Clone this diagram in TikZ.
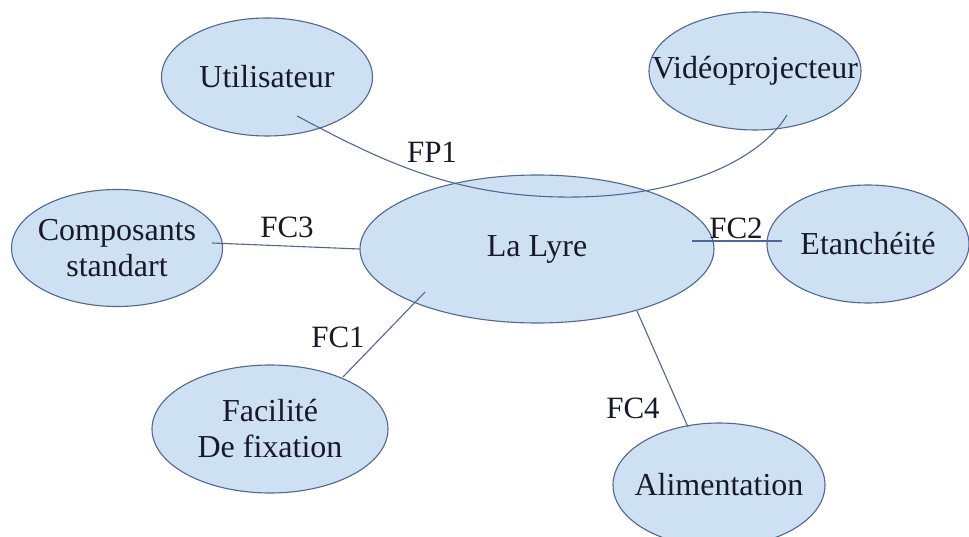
\documentclass[tikz,border=0pt]{standalone}
\usepackage{fontspec}
\setmainfont{Liberation Serif}
\usetikzlibrary{shapes.geometric}
\definecolor{bubfill}{RGB}{205,225,243}
\definecolor{bubdraw}{RGB}{82,102,148}
\definecolor{txt}{RGB}{25,25,40}
\begin{document}
\begin{tikzpicture}[x=1pt,y=-1pt,
  bub/.style={ellipse, draw=bubdraw, fill=bubfill, line width=1.1pt, inner sep=0pt},
  bubtxt/.style={font=\fontsize{32}{36}\selectfont, text=txt, align=center},
  lbl/.style={font=\fontsize{31}{36}\selectfont, text=txt},
  link/.style={draw=bubdraw, line width=1.1pt}]
\useasboundingbox (0,0) rectangle (969,537);
\fill[white] (0,0) rectangle (969,537);
\clip (0,0) rectangle (969,537);

% bubbles
\node[bub, minimum width=211pt, minimum height=118pt, label={[bubtxt]center:Utilisateur}] (user) at (267,77) {};
\node[bub, minimum width=212pt, minimum height=118pt, label={[bubtxt]center:Vidéoprojecteur}] (video) at (755,71) {};
\node[bub, minimum width=211pt, minimum height=117pt, label={[bubtxt]center:Composants\\standart}] (comp) at (117,248) {};
\node[bub, minimum width=354pt, minimum height=148pt, label={[bubtxt]center:La Lyre}] (lyre) at (537,249) {};
\node[bub, minimum width=202pt, minimum height=118pt, label={[bubtxt]center:Etanchéité}] (etan) at (868,244) {};
\node[bub, minimum width=236pt, minimum height=128pt, label={[bubtxt]center:Facilité\\De fixation}] (facil) at (270,429) {};
\node[bub, minimum width=212pt, minimum height=124pt, label={[bubtxt]center:Alimentation}] (alim) at (719,485) {};

% connector end points
\coordinate (userIn) at (297,116);
\coordinate (fpDip) at (560,197);
\coordinate (videoIn) at (787,115);
\coordinate (compIn) at (212,243);
\coordinate (lyreE) at (692,241);
\coordinate (etanIn) at (782,241);
\coordinate (lyreSW) at (425,292);
\coordinate (facilTop) at (343,377);
\coordinate (lyreS) at (637,311);
\coordinate (alimTop) at (688,427);

% connectors
\draw[link] (userIn) .. controls (380,160) and (450,195) .. (fpDip)
            .. controls (680,199) and (760,160) .. (videoIn);
\draw[link] (compIn) -- (lyre.west);
\draw[link] (lyreE) -- (etanIn);
\draw[link] (lyreSW) -- (facilTop);
\draw[link] (lyreS) -- (alimTop);

% labels
\node[lbl] (fp1) at (432,152) {FP1};
\node[lbl] (fc3) at (287,227) {FC3};
\node[lbl] (fc2) at (736,228) {FC2};
\node[lbl] (fc1) at (338,337) {FC1};
\node[lbl] (fc4) at (633,408) {FC4};
\end{tikzpicture}
\end{document}
